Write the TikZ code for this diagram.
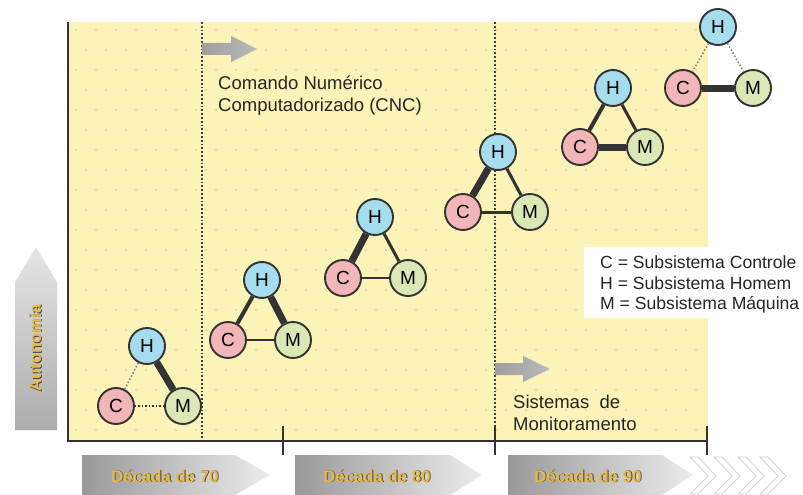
\documentclass[tikz,border=0pt]{standalone}
\usepackage{fontspec}
\setmainfont{Liberation Sans}
\definecolor{bgy}{HTML}{FCF3B8}
\definecolor{hblue}{HTML}{A6DDEE}
\definecolor{cpink}{HTML}{F2B5B8}
\definecolor{mgreen}{HTML}{D9E8B5}
\definecolor{gold}{HTML}{E6B94A}
\definecolor{edgec}{HTML}{333333}
\definecolor{dotc}{HTML}{CFC596}
\tikzset{
  ball/.style={circle, draw=edgec, line width=1.9pt, minimum size=36pt, inner sep=0pt, font=\fontsize{19}{19}\selectfont},
  hball/.style={ball, fill=hblue},
  cball/.style={ball, fill=cpink},
  mball/.style={ball, fill=mgreen},
  lthin/.style={draw=edgec, line width=2pt},
  lmid/.style={draw=edgec, line width=4pt},
  lthick/.style={draw=edgec, line width=7pt},
  ldot/.style={draw=edgec, dotted, line width=1.5pt},
  txt/.style={font=\fontsize{18.5}{22}\selectfont, align=left, anchor=north west, inner sep=0pt, text=black!85},
  dectxt/.style={font=\bfseries\fontsize{16.8}{17}\selectfont},
  axisline/.style={draw=black!80, line width=1.6pt},
}
\newcommand{\dectext}[2]{%
  \node[dectxt, text=black!75] at ($#1+(0.8,0.8)$) {#2};
  \node[dectxt, text=gold] at #1 {#2};}
\usetikzlibrary{calc}
\begin{document}
\begin{tikzpicture}[x=1pt,y=-1pt]
\useasboundingbox (0,0) rectangle (803,495);
% background
\fill[bgy] (68,22) rectangle (708,441);
\foreach \i in {0,...,31}{
  \foreach \j in {0,...,20}{
    \pgfmathsetmacro{\xx}{76+20*\i+10*mod(\j,2)}
    \pgfmathsetmacro{\yy}{30+20*\j}
    \ifdim\xx pt<706pt
      \fill[dotc] (\xx,\yy) circle (0.8);
    \fi
  }
}
% legend box
\fill[white] (584,247) rectangle (803,318);
\node[txt, font=\fontsize{17.6}{20.5}\selectfont] (legend) at (600,256) {C = Subsistema Controle\\H = Subsistema Homem\\M = Subsistema Máquina};
% dotted separators
\draw[black!75, dotted, line width=1.8pt] (202,22) -- (202,441);
\draw[black!75, dotted, line width=1.8pt] (495,22) -- (495,441);
% axes
\draw[axisline] (68,22) -- (68,441) -- (708,441);
\foreach \x in {283,495,707} \draw[axisline] (\x,426) -- (\x,455);
% small gray arrows
\shade[left color=gray!75, right color=gray!55] (202,43) -- (231,43) -- (231,36) -- (257,49) -- (231,62) -- (231,55) -- (202,55) -- cycle;
\shade[left color=gray!75, right color=gray!55] (495,363) -- (523,363) -- (523,356) -- (550,369) -- (523,382) -- (523,375) -- (495,375) -- cycle;
\node[txt] (cnc) at (218,76) {Comando Numérico\\Computadorizado (CNC)};
\node[txt] (sm) at (513,395) {Sistemas\ \ de\\Monitoramento};
% decade arrows
\shade[left color=gray!80, right color=gray!15] (82,455) -- (235,455) -- (270,475) -- (235,495) -- (82,495) -- cycle;
\shade[left color=gray!80, right color=gray!15] (295,455) -- (450,455) -- (482,475) -- (450,495) -- (295,495) -- cycle;
\shade[left color=gray!80, right color=gray!15] (508,455) -- (662,455) -- (693,475) -- (662,495) -- (508,495) -- cycle;
\foreach \a in {690,714,738,760}
  \draw[gray!40, line width=0.7pt] (\a,457) -- (\a+8,457) -- (\a+26,476) -- (\a+8,494) -- (\a,494) -- (\a+18,476) -- cycle;
\dectext{(165,476)}{Década de 70}
\dectext{(377,476)}{Década de 80}
\dectext{(588,476)}{Década de 90}
% autonomia arrow
\shade[top color=gray!20, bottom color=gray!65] (15,430) -- (15,282) -- (36,247) -- (57,282) -- (57,430) -- cycle;
\node[dectxt, rotate=90, text=black!75] at (35.8,348.8) {Autonomia};
\node[dectxt, rotate=90, text=gold] at (35,348) {Autonomia};
% group 1
\node[hball] (h1) at (147,346) {H};
\node[cball] (c1) at (116,406) {C};
\node[mball] (m1) at (183,406) {M};
\draw[lthick] (h1) -- (m1);
\draw[ldot] (c1) -- (m1);
\draw[ldot, black!50] (c1) -- (h1);
% group 2
\node[hball] (h2) at (262,280) {H};
\node[cball] (c2) at (228,340) {C};
\node[mball] (m2) at (293,340) {M};
\draw[lmid] (h2) -- (c2);
\draw[lthick] (h2) -- (m2);
\draw[lthin] (c2) -- (m2);
% group 3
\node[hball] (h3) at (375,217) {H};
\node[cball] (c3) at (343,278) {C};
\node[mball] (m3) at (408,278) {M};
\draw[lthick] (h3) -- (c3);
\draw[lmid, line width=3pt] (h3) -- (m3);
\draw[lthin] (c3) -- (m3);
% group 4
\node[hball] (h4) at (498,152) {H};
\node[cball] (c4) at (463,212) {C};
\node[mball] (m4) at (530,212) {M};
\draw[lthick] (h4) -- (c4);
\draw[lmid, line width=3pt] (h4) -- (m4);
\draw[lmid, line width=3pt] (c4) -- (m4);
% group 5
\node[hball] (h5) at (613,88) {H};
\node[cball] (c5) at (580,147) {C};
\node[mball] (m5) at (645,147) {M};
\draw[lmid] (h5) -- (c5);
\draw[lmid, line width=3pt] (h5) -- (m5);
\draw[lthick] (c5) -- (m5);
% group 6
\node[hball] (h6) at (718,27) {H};
\node[cball] (c6) at (683,88) {C};
\node[mball] (m6) at (753,88) {M};
\draw[lthick] (c6) -- (m6);
\draw[ldot, black!50] (h6) -- (c6);
\draw[ldot, black!50] (h6) -- (m6);
\end{tikzpicture}
\end{document}
